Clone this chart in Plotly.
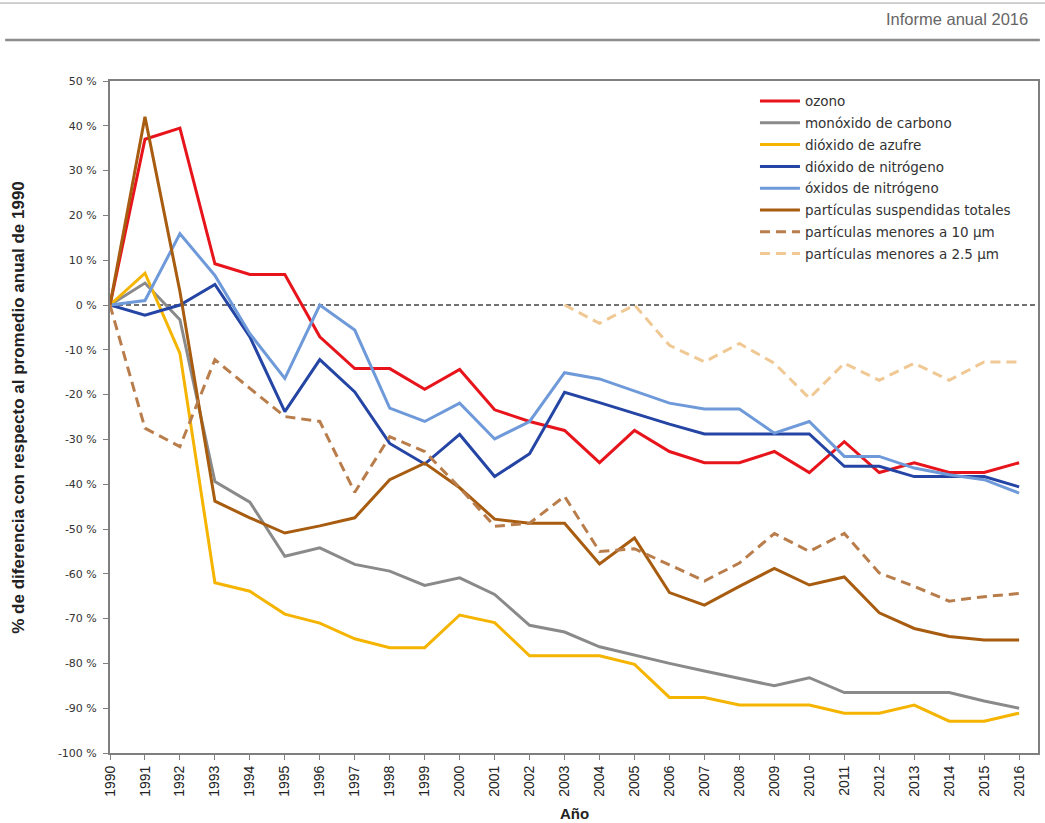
import plotly.graph_objects as go

years = list(range(1990, 2017))

ozono = [0, 37, 39.5, 9.2, 6.8, 6.8, -7.1, -14.2, -14.2, -18.8, -14.4, -23.4, -26, -28,
         -35.2, -28, -32.7, -35.2, -35.2, -32.7, -37.4, -30.5, -37.4, -35.2, -37.4, -37.4, -35.2]
monoxido_carbono = [0, 4.9, -3.3, -39.4, -44, -56.1, -54.2, -57.9, -59.4, -62.6, -60.9, -64.6,
                    -71.5, -73, -76.3, -78.2, -80, -81.7, -83.4, -85, -83.2, -86.5, -86.5, -86.5,
                    -86.5, -88.4, -90]
dioxido_azufre = [0, 7.1, -10.8, -62, -63.9, -69, -71, -74.5, -76.5, -76.5, -69.2, -70.9, -78.3,
                  -78.3, -78.3, -80.2, -87.6, -87.6, -89.3, -89.3, -89.3, -91.1, -91.1, -89.3,
                  -92.9, -92.9, -91.1]
dioxido_nitrogeno = [0, -2.3, 0, 4.6, -7.1, -23.8, -12.2, -19.4, -30.9, -35.5, -28.9, -38.3,
                     -33.2, -19.5, -21.8, -24.2, -26.6, -28.8, -28.8, -28.8, -28.8, -36, -36,
                     -38.3, -38.3, -38.3, -40.6]
oxidos_nitrogeno = [0, 1.0, 15.9, 6.6, -6.4, -16.4, 0, -5.6, -23, -26, -21.9, -29.9, -26, -15.1,
                    -16.5, -19.2, -21.9, -23.2, -23.2, -28.6, -26, -33.8, -33.8, -36.4, -37.9,
                    -39, -42]
pst = [0, 42, 3, -43.8, -47.5, -50.9, -49.3, -47.5, -39, -35.3, -40.8, -47.8, -48.7, -48.7,
       -57.8, -52, -64.2, -67, -62.8, -58.8, -62.5, -60.7, -68.7, -72.2, -74, -74.8, -74.8]
pm10 = [0, -27.5, -31.6, -12.2, -18.6, -24.9, -26, -41.8, -29.4, -32.7, -40.8, -49.4, -48.7,
        -42.7, -55, -54.4, -58, -61.6, -57.6, -51, -55, -51, -59.8, -62.8, -66.1, -65.1, -64.4]
pm25 = [None] * 13 + [0, -4.1, 0, -9, -12.7, -8.6, -13, -20.8, -13, -16.8, -13, -16.8, -12.7, -12.7]

y_tickvals = [50, 40, 30, 20, 10, 0, -10, -20, -30, -40, -50, -60, -70, -80, -90, -100]
y_ticktext = ["50 %", "40 %", "30 %", "20 %", "10 %", "0 %", "-10 %", "-20 %", "-30 %", "-40 %",
              "-50 %", "-60 %", "-70 %", "-80 %", "-90 %", "-100 %"]
x_ticktext = [str(y) for y in years]

series = [
    ("ozono", ozono, "#e8141c", "solid"),
    ("monóxido de carbono", monoxido_carbono, "#8a8a8a", "solid"),
    ("dióxido de azufre", dioxido_azufre, "#f5b400", "solid"),
    ("dióxido de nitrógeno", dioxido_nitrogeno, "#2545a5", "solid"),
    ("óxidos de nitrógeno", oxidos_nitrogeno, "#6f9ad9", "solid"),
    ("partículas suspendidas totales", pst, "#a85c10", "solid"),
    ("partículas menores a 10 µm", pm10, "#b97d4b", "10px,6px"),
    ("partículas menores a 2.5 µm", pm25, "#f0c894", "10px,6px"),
]

fig = go.Figure()
for name, vals, color, dash in series:
    fig.add_trace(go.Scatter(x=years, y=vals, name=name, mode="lines", legendgroup=name,
                             line=dict(color=color, width=3, dash=dash)))

fig.add_hline(y=0, line=dict(color="#444444", width=1.5, dash="5px,3px"), layer="below")

# header
fig.add_shape(type="line", xref="paper", yref="paper", x0=-0.12, x1=1.01, y0=1.116, y1=1.116,
              line=dict(color="#a0a0a0", width=1))
fig.add_shape(type="line", xref="paper", yref="paper", x0=-0.113, x1=1.002, y0=1.061, y1=1.061,
              line=dict(color="#8c8c8c", width=2.5))
fig.add_annotation(text="Informe anual 2016", xref="paper", yref="paper", x=0.991, y=1.092,
                   xanchor="right", yanchor="middle", showarrow=False,
                   font=dict(family="Liberation Sans", size=16.5, color="#666666"))

# axis titles
fig.add_annotation(text="<b>% de diferencia con respecto al promedio anual de 1990</b>",
                   xref="paper", yref="paper", x=-0.099, y=0.514, textangle=-90,
                   xanchor="center", yanchor="middle", showarrow=False,
                   font=dict(family="Liberation Sans", size=17, color="#222222"))
fig.add_annotation(text="<b>Año</b>", xref="paper", yref="paper", x=0.5, y=-0.0893,
                   xanchor="center", yanchor="middle", showarrow=False,
                   font=dict(family="Liberation Sans", size=15, color="#222222"))

fig.update_layout(
    width=1045, height=823,
    margin=dict(l=110, r=7, t=81, b=70, autoexpand=False),
    paper_bgcolor="white", plot_bgcolor="white",
    showlegend=True,
    legend=dict(x=0.695, y=0.993, xanchor="left", yanchor="top",
                bgcolor="rgba(0,0,0,0)", font=dict(family="DejaVu Sans", size=13.5, color="#333333"),
                itemwidth=40, tracegroupgap=1.25),
    xaxis=dict(range=[1990, 2016.54], tickvals=years, ticktext=x_ticktext, tickangle=-90,
               automargin=False,
               showgrid=False, zeroline=False, showline=True, mirror=True,
               linecolor="#7f7f7f", linewidth=2, ticks="outside", ticklen=5, tickcolor="#7f7f7f",
               tickfont=dict(family="Liberation Sans", size=14, color="#222222")),
    yaxis=dict(range=[-100, 50], tickvals=y_tickvals, ticktext=y_ticktext,
               automargin=False, ticklabelstandoff=4,
               showgrid=False, zeroline=False, showline=True, mirror=True,
               linecolor="#7f7f7f", linewidth=2, ticks="outside", ticklen=5, tickcolor="#7f7f7f",
               tickfont=dict(family="DejaVu Sans", size=11, color="#333333")),
)

fig.write_html("out.html", config={"displayModeBar": False},
               post_script="document.body.style.margin='0';document.body.style.overflow='hidden';")
